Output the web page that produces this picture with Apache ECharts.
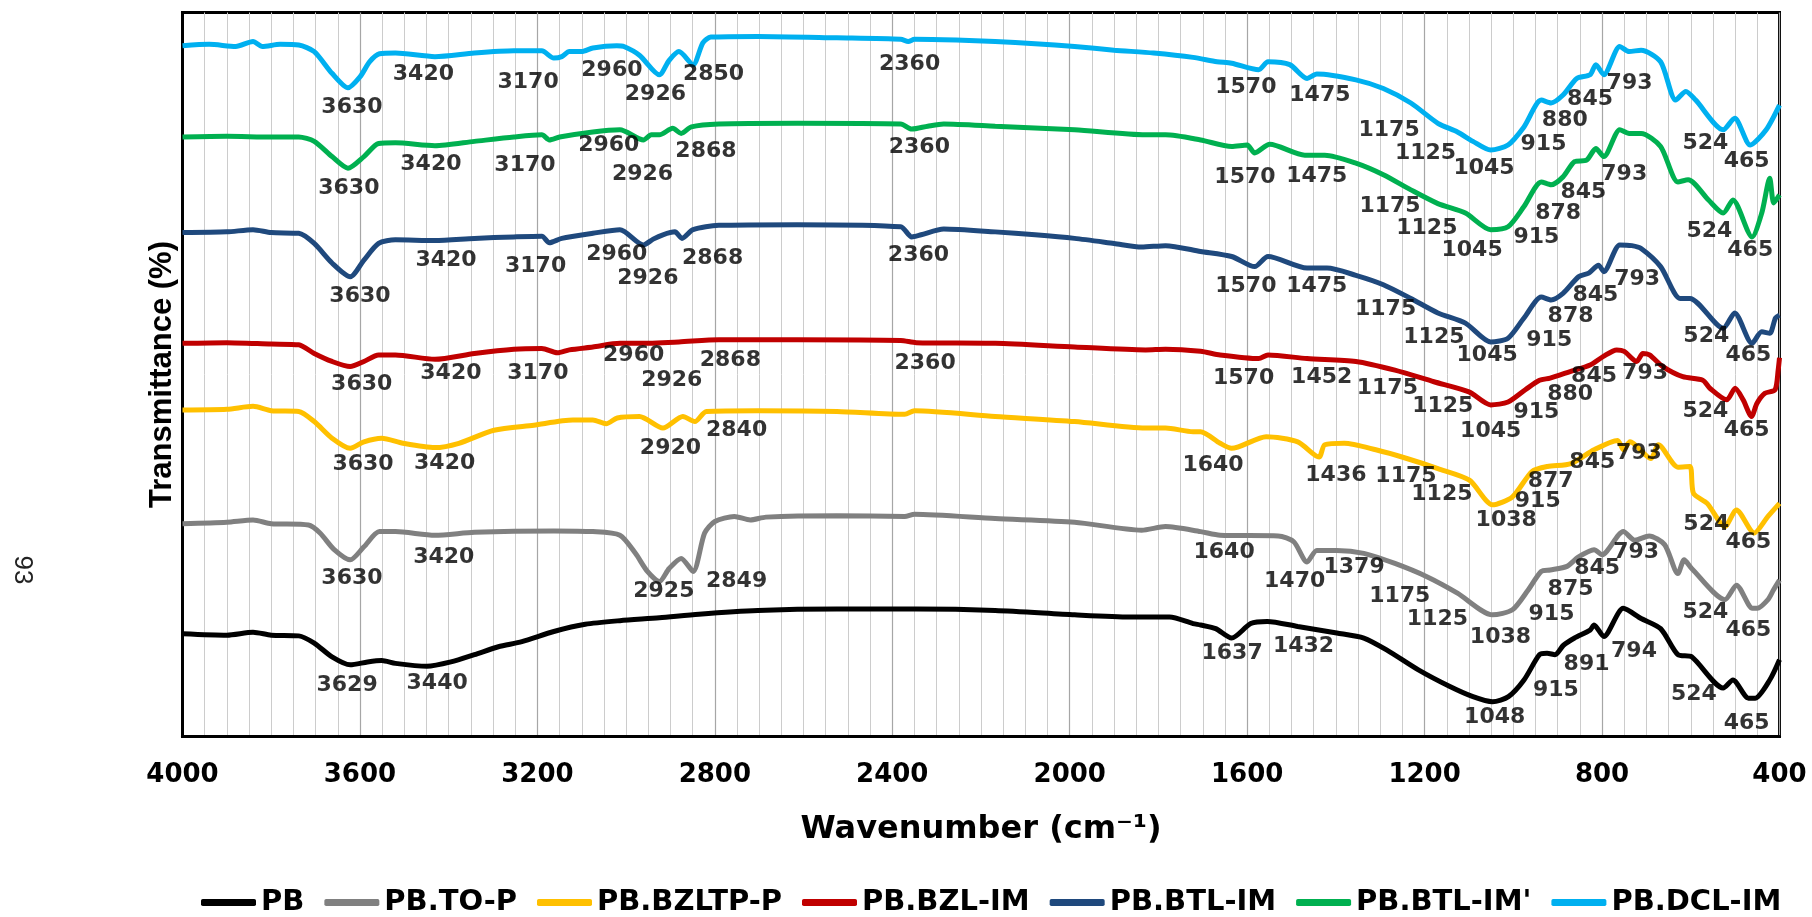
<!DOCTYPE html>
<html>
<head>
<meta charset="utf-8">
<script src="https://cdn.jsdelivr.net/npm/echarts@6/dist/echarts.min.js"></script>
<style>
html,body{margin:0;padding:0;background:#fff;}
#chart{width:1812px;height:917px;}
</style>
</head>
<body>
<div id="chart"></div>
<script>
// ---- Data: [wavenumber (cm-1), transmittance (offset, arbitrary %)] ----
const PB = [[4000,14.2],[3900,14.0],[3841,14.4],[3800,14.0],[3738,13.9],[3703,12.9],[3663,11.0],[3622,9.9],[3583,10.3],[3551,10.5],[3520,10.1],[3449,9.7],[3395,10.3],[3342,11.3],[3288,12.4],[3235,13.1],[3163,14.5],[3092,15.5],[3014,16.0],[2925,16.4],[2836,16.9],[2703,17.4],[2525,17.6],[2346,17.6],[2168,17.4],[1989,16.8],[1864,16.5],[1775,16.5],[1722,15.6],[1705,15.4],[1671,14.9],[1635,13.6],[1592,15.6],[1555,15.9],[1486,15.2],[1398,14.3],[1337,13.6],[1284,11.9],[1214,9.2],[1143,6.9],[1091,5.5],[1047,4.8],[1011,5.5],[976,7.8],[941,11.3],[924,11.5],[906,11.3],[887,12.6],[862,13.6],[827,14.7],[818,15.4],[796,13.8],[752,17.7],[712,16.3],[668,14.9],[629,11.3],[598,11.0],[527,6.7],[505,7.8],[470,5.3],[455,5.3],[422,7.8],[400,10.6]];
const TO_P = [[4000,29.4],[3900,29.6],[3841,29.9],[3800,29.4],[3716,29.2],[3690,28.1],[3658,25.8],[3622,24.4],[3591,26.2],[3556,28.3],[3520,28.3],[3431,27.8],[3342,28.2],[3163,28.4],[3075,28.3],[3014,27.8],[2979,25.3],[2952,22.8],[2925,21.4],[2903,23.2],[2876,24.6],[2849,22.8],[2823,28.1],[2800,29.7],[2756,30.4],[2720,29.9],[2685,30.3],[2525,30.5],[2372,30.4],[2350,30.7],[2168,30.1],[1989,29.6],[1838,28.5],[1784,29.0],[1705,28.3],[1661,27.8],[1530,27.7],[1495,26.9],[1465,24.1],[1443,25.7],[1398,25.7],[1337,25.3],[1267,23.9],[1196,22.1],[1126,19.8],[1047,16.8],[1002,17.5],[967,20.2],[937,22.8],[917,23.0],[879,23.5],[853,24.8],[818,25.8],[800,25.1],[752,28.3],[726,27.1],[694,27.7],[659,26.5],[629,22.5],[615,24.4],[598,23.2],[523,18.9],[497,20.9],[461,17.7],[450,17.7],[426,18.9],[414,20.2],[400,21.6]];
const BZLTP_P = [[4000,45.1],[3900,45.2],[3841,45.6],[3800,45.0],[3738,44.9],[3703,43.5],[3663,41.2],[3622,39.8],[3591,40.7],[3551,41.2],[3503,40.5],[3431,39.9],[3377,40.5],[3298,42.3],[3208,43.0],[3120,43.7],[3075,43.7],[3045,43.2],[3020,44.0],[2970,44.2],[2917,42.6],[2872,44.2],[2845,43.5],[2819,44.9],[2703,45.0],[2525,44.9],[2372,44.5],[2350,45.0],[2168,44.2],[1989,43.5],[1829,42.6],[1784,42.6],[1722,42.1],[1705,42.1],[1661,40.5],[1635,39.8],[1557,41.4],[1486,40.7],[1438,38.6],[1425,40.3],[1381,40.5],[1310,39.6],[1240,38.4],[1170,37.0],[1099,35.4],[1047,32.0],[1002,33.1],[958,36.6],[923,37.3],[870,37.7],[818,39.6],[765,40.9],[752,39.6],[737,40.7],[690,38.4],[673,40.3],[629,37.2],[602,37.3],[594,33.6],[563,32.2],[523,29.0],[497,31.3],[457,28.1],[426,30.4],[400,32.2]];
const BZL_IM = [[4000,54.3],[3900,54.4],[3800,54.2],[3738,54.1],[3703,52.9],[3663,51.8],[3622,51.1],[3591,51.8],[3558,52.7],[3520,52.7],[3431,52.1],[3342,52.9],[3253,53.5],[3190,53.6],[3155,53.0],[3128,53.4],[3075,53.8],[3014,54.3],[2970,54.3],[2881,54.5],[2791,54.8],[2614,54.8],[2381,54.7],[2346,54.4],[2168,54.3],[1989,53.8],[1829,53.4],[1784,53.5],[1705,53.2],[1661,52.7],[1574,52.2],[1553,52.7],[1465,52.2],[1355,51.8],[1267,50.6],[1179,49.0],[1100,47.6],[1051,45.8],[1012,46.2],[973,47.9],[941,49.2],[917,49.5],[872,50.4],[827,51.3],[797,52.5],[767,53.4],[750,53.2],[722,51.8],[708,52.9],[693,52.7],[663,51.1],[618,49.7],[573,49.2],[557,48.1],[519,46.5],[500,48.1],[482,46.5],[463,44.2],[451,46.0],[433,47.4],[410,47.9],[403,50.6],[400,52.3]];
const BTL_IM = [[4000,69.6],[3900,69.7],[3841,70.0],[3800,69.6],[3738,69.5],[3703,68.1],[3663,65.4],[3622,63.5],[3591,65.8],[3558,68.1],[3520,68.6],[3431,68.5],[3342,68.8],[3253,69.0],[3190,69.1],[3173,68.2],[3145,68.8],[3075,69.5],[3014,70.0],[2961,67.9],[2939,68.7],[2917,69.3],[2890,69.7],[2874,68.8],[2849,70.0],[2791,70.6],[2614,70.7],[2381,70.4],[2356,69.0],[2335,69.3],[2284,70.1],[2168,69.7],[2078,69.3],[1989,68.8],[1900,68.1],[1838,67.6],[1784,67.8],[1705,67.0],[1635,66.3],[1583,64.9],[1553,66.3],[1465,64.7],[1420,64.7],[1355,63.7],[1293,62.4],[1231,60.5],[1170,58.5],[1108,57.1],[1051,54.5],[1012,55.0],[976,57.8],[937,60.7],[915,60.3],[888,61.2],[853,63.5],[830,64.0],[808,65.1],[796,64.2],[760,67.9],[733,67.8],[712,67.4],[668,64.9],[624,60.5],[602,60.5],[527,56.4],[501,58.5],[462,54.3],[440,55.9],[422,55.7],[409,57.8],[400,58.2]];
const BTL_IM2 = [[4000,82.8],[3900,82.9],[3800,82.8],[3738,82.8],[3703,82.2],[3663,80.1],[3627,78.5],[3591,80.1],[3558,81.9],[3520,82.0],[3431,81.6],[3342,82.2],[3253,82.8],[3190,83.1],[3173,82.4],[3150,82.8],[3075,83.5],[3014,83.8],[2961,82.4],[2943,83.1],[2925,83.1],[2895,84.0],[2876,83.3],[2853,84.2],[2791,84.6],[2614,84.7],[2381,84.6],[2356,83.9],[2320,84.3],[2284,84.6],[2168,84.3],[1989,83.8],[1829,83.1],[1784,83.1],[1705,82.4],[1635,81.5],[1600,81.7],[1583,80.6],[1549,81.8],[1470,80.3],[1425,80.3],[1355,79.2],[1293,77.6],[1231,75.5],[1170,73.6],[1108,72.3],[1051,70.0],[1012,70.4],[976,73.2],[937,76.6],[915,76.2],[888,77.3],[862,79.4],[835,79.6],[814,81.2],[796,80.1],[760,83.8],[739,83.3],[712,83.3],[668,81.5],[629,76.6],[606,76.9],[560,74.1],[527,72.3],[505,74.1],[462,69.0],[440,72.3],[422,77.1],[413,73.7],[400,74.8]];
const DCL_IM = [[4000,95.4],[3940,95.6],[3880,95.3],[3841,96.0],[3820,95.3],[3780,95.6],[3738,95.5],[3703,94.6],[3663,91.6],[3627,89.6],[3600,91.1],[3578,93.2],[3556,94.3],[3520,94.4],[3431,93.9],[3342,94.4],[3253,94.7],[3190,94.7],[3163,93.7],[3145,93.9],[3128,94.6],[3100,94.6],[3075,95.1],[3021,95.4],[3005,95.3],[2970,94.1],[2925,91.4],[2903,93.4],[2881,94.6],[2849,92.8],[2827,95.8],[2809,96.6],[2703,96.7],[2525,96.5],[2381,96.3],[2364,96.0],[2350,96.3],[2256,96.2],[2168,96.0],[2078,95.7],[1989,95.3],[1900,94.8],[1811,94.4],[1722,93.8],[1668,93.2],[1635,93.0],[1574,92.1],[1553,93.2],[1504,92.8],[1465,90.9],[1443,91.5],[1355,90.7],[1293,89.5],[1231,87.5],[1170,84.7],[1126,83.5],[1091,82.2],[1051,81.0],[1012,81.7],[976,84.2],[937,87.9],[915,87.5],[888,88.6],[857,90.9],[827,91.4],[814,92.8],[796,91.4],[760,95.3],[739,94.6],[712,94.8],[668,93.2],[634,87.9],[611,89.1],[589,87.9],[527,83.8],[501,85.4],[466,81.7],[430,83.8],[400,87.2]];

// ---- Peak annotations: [text, wavenumber position, value position] ----
const PB_PEAKS = [['3629',3629,7.1],['3440',3426,7.3],['1637',1634,11.5],['1432',1473,12.5],['1048',1042,2.6],['915',904,6.4],['891',835,10.0],['794',728,11.8],['524',593,5.9],['465',474,1.8]];
const TO_P_PEAKS = [['3630',3618,21.8],['3420',3411,24.8],['2925',2915,20.0],['2849',2751,21.5],['1640',1652,25.4],['1470',1493,21.4],['1379',1359,23.4],['1175',1256,19.3],['1125',1171,16.2],['1038',1029,13.7],['915',914,16.9],['875',871,20.3],['845',811,23.2],['793',723,25.5],['524',567,17.2],['465',470,14.7]];
const BZLTP_P_PEAKS = [['3630',3593,37.6],['3420',3409,37.7],['2920',2900,39.8],['2840',2751,42.3],['1640',1677,37.4],['1436',1400,36.1],['1175',1242,36.0],['1125',1161,33.4],['1038',1016,29.8],['915',945,32.5],['877',916,35.3],['845',822,37.9],['793',717,39.1],['524',565,29.3],['465',470,26.8]];
const BZL_IM_PEAKS = [['3630',3596,48.7],['3420',3395,50.2],['3170',3199,50.2],['2960',2983,52.7],['2926',2897,49.2],['2868',2765,52.0],['2360',2326,51.5],['1570',1608,49.5],['1452',1432,49.6],['1175',1284,48.1],['1125',1159,45.6],['1045',1051,42.2],['915',948,44.8],['880',872,47.3],['845',818,49.7],['793',703,50.2],['524',567,44.9],['465',474,42.3]];
const BTL_IM_PEAKS = [['3630',3600,60.8],['3420',3406,65.8],['3170',3204,65.0],['2960',3021,66.6],['2926',2951,63.3],['2868',2805,66.1],['2360',2341,66.5],['1570',1603,62.2],['1475',1443,62.2],['1175',1288,59.0],['1125',1179,55.1],['1045',1059,52.6],['915',919,54.7],['878',871,58.1],['845',815,61.0],['793',721,63.2],['524',565,55.3],['465',470,52.6]];
const BTL_IM2_PEAKS = [['3630',3625,75.7],['3420',3440,79.0],['3170',3228,78.9],['2960',3039,81.6],['2926',2963,77.7],['2868',2820,80.8],['2360',2339,81.4],['1570',1605,77.2],['1475',1443,77.4],['1175',1278,73.3],['1125',1195,70.2],['1045',1093,67.2],['915',948,68.9],['878',899,72.3],['845',842,75.2],['793',750,77.6],['524',558,69.8],['465',466,67.2]];
const DCL_IM_PEAKS = [['3630',3618,86.9],['3420',3457,91.5],['3170',3221,90.4],['2960',3032,92.0],['2926',2934,88.7],['2850',2803,91.4],['2360',2361,92.8],['1570',1603,89.7],['1475',1436,88.5],['1175',1280,83.8],['1125',1198,80.6],['1045',1066,78.5],['915',932,81.8],['880',884,85.1],['845',827,88.0],['793',738,90.2],['524',567,82.0],['465',474,79.4]];

const X_MIN = 400, X_MAX = 4000, X_STEP = 400;

const SERIES = [
  {name: 'PB', data: PB, color: '#000000', peaks: PB_PEAKS},
  {name: 'PB.TO-P', data: TO_P, color: '#808080', peaks: TO_P_PEAKS},
  {name: 'PB.BZLTP-P', data: BZLTP_P, color: '#FFC000', peaks: BZLTP_P_PEAKS},
  {name: 'PB.BZL-IM', data: BZL_IM, color: '#C00000', peaks: BZL_IM_PEAKS},
  {name: 'PB.BTL-IM', data: BTL_IM, color: '#1F497D', peaks: BTL_IM_PEAKS},
  {name: "PB.BTL-IM'", data: BTL_IM2, color: '#00B050', peaks: BTL_IM2_PEAKS},
  {name: 'PB.DCL-IM', data: DCL_IM, color: '#00B0F0', peaks: DCL_IM_PEAKS}
];

const WIDE = 'DejaVu Sans';
const chart = echarts.init(document.getElementById('chart'), null, {renderer: 'canvas'});

const lineSeries = SERIES.map(s => ({
  name: s.name,
  type: 'line',
  data: s.data,
  showSymbol: false,
  symbol: 'none',
  smooth: 0.25,
  lineStyle: {width: 5, color: s.color},
  itemStyle: {color: s.color},
  z: 3,
  silent: true
}));

const allPeaks = [];
SERIES.forEach(s => s.peaks.forEach(p => allPeaks.push({name: p[0], value: [p[1], p[2]]})));

const labelSeries = {
  name: 'peaks',
  type: 'scatter',
  data: allPeaks,
  symbol: 'circle',
  symbolSize: 1,
  itemStyle: {color: 'rgba(0,0,0,0)'},
  silent: true,
  z: 5,
  label: {
    show: true,
    position: 'inside',
    formatter: p => p.name,
    fontFamily: WIDE,
    fontWeight: 'bold',
    fontSize: 22,
    color: '#000'
  }
};

chart.setOption({
  animation: false,
  backgroundColor: '#fff',
  grid: {left: 182.5, right: 32.5, top: 12.5, bottom: 180.5, show: true, borderColor: '#000', borderWidth: 3, backgroundColor: 'transparent'},
  legend: {
    data: SERIES.map(s => s.name),
    left: 196, top: 883,
    icon: 'roundRect',
    itemWidth: 55, itemHeight: 7, itemGap: 20,
    textStyle: {fontFamily: WIDE, fontWeight: 'bold', fontSize: 29, color: '#000'}
  },
  xAxis: {
    type: 'value', min: X_MIN, max: X_MAX, interval: X_STEP, inverse: true,
    name: 'Wavenumber (cm\u207B\u00B9)', nameLocation: 'middle', nameGap: 77,
    nameTextStyle: {fontFamily: WIDE, fontWeight: 'bold', fontSize: 32, color: '#000'},
    axisLine: {show: true, lineStyle: {color: '#000', width: 3}},
    axisTick: {show: false},
    axisLabel: {fontFamily: WIDE, fontWeight: 'bold', fontSize: 26, color: '#000', margin: 26, formatter: v => String(v)},
    splitLine: {show: true, lineStyle: {color: '#a6a6a6', width: 1.2}},
    minorTick: {show: false, splitNumber: 8},
    minorSplitLine: {show: true, lineStyle: {color: '#cccccc', width: 1}}
  },
  yAxis: {
    type: 'value', min: 0, max: 100,
    name: 'Transmittance (%)', nameLocation: 'middle', nameRotate: 90, nameGap: 5,
    nameTextStyle: {fontFamily: 'Liberation Sans, Arial', fontWeight: 'bold', fontSize: 31, color: '#000'},
    axisLine: {show: true, lineStyle: {color: '#000', width: 3}},
    axisTick: {show: false},
    axisLabel: {show: false},
    splitLine: {show: false}
  },
  graphic: [{
    type: 'text', x: 22, y: 570, rotation: -Math.PI / 2,
    style: {text: '93', fontFamily: 'Liberation Sans', fontSize: 26, fill: '#222', align: 'center', verticalAlign: 'middle'}
  }],
  series: lineSeries.concat([labelSeries])
});
</script>
</body>
</html>
